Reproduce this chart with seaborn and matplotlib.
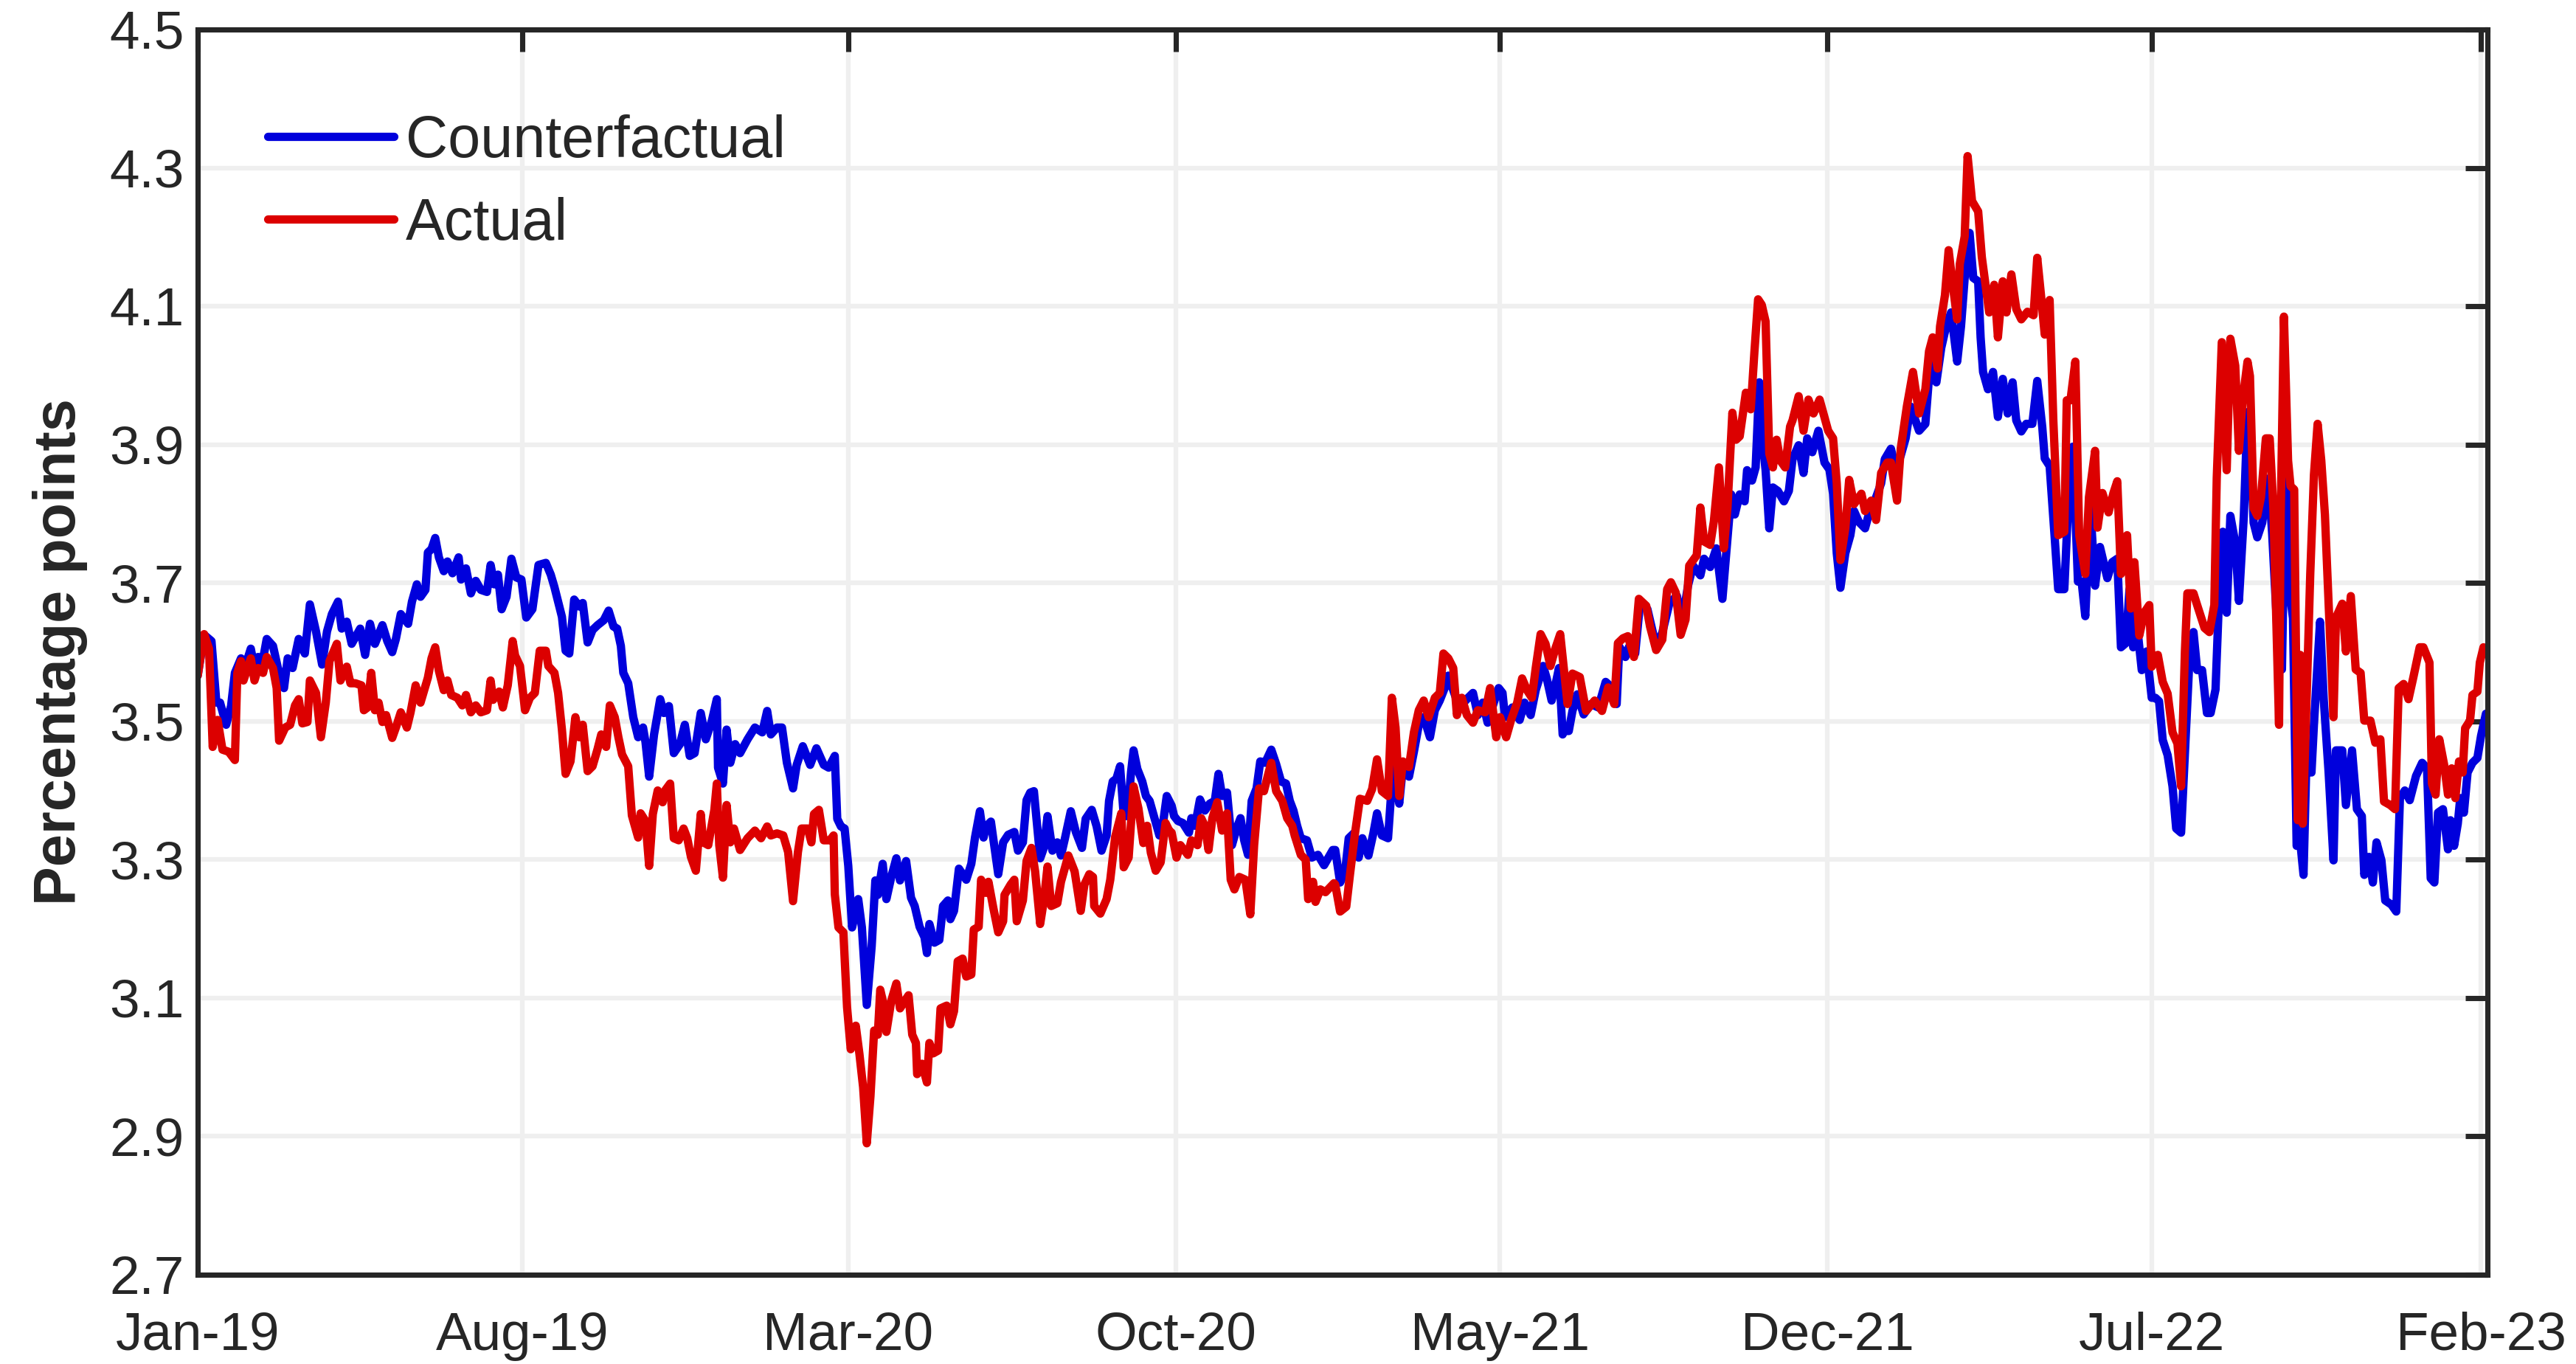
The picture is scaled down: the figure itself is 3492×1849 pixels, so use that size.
import pandas as pd
import matplotlib
matplotlib.use("Agg")
import matplotlib.pyplot as plt
import matplotlib.dates as mdates
import seaborn as sns

# ---------------- data (days since 2019-01-01, percentage points) ----------------
start_date = "2019-01-01"
x_end_day = 1496.2

cf_days = [
    0.0, 4.2, 9.0, 12.2, 14.6, 18.6, 21.8, 24.3, 28.3, 30.7, 34.7, 37.1, 39.5, 41.9, 45.1, 49.2,
    52.4, 56.4, 58.8, 62.0, 66.0, 70.0, 73.3, 77.3, 81.3, 84.5, 87.7, 91.7, 94.1, 97.4, 100.6,
    106.2, 109.4, 112.6, 115.8, 120.7, 123.9, 127.1, 129.5, 132.7, 137.5, 140.0, 143.2,
    145.6, 148.8, 150.4, 152.8, 155.2, 157.6, 160.8, 163.2, 166.5, 170.5, 172.1, 175.3, 178.5,
    181.7, 185.0, 189.0, 191.4, 193.8, 196.2, 198.6, 201.8, 205.0, 208.2, 211.5, 214.7, 218.7,
    222.7, 227.5, 230.7, 233.1, 238.0, 240.4, 242.8, 246.0, 249.2, 251.6, 254.8, 258.0, 261.3,
    265.3, 268.5, 271.7, 274.1, 276.5, 278.1, 281.3, 284.6, 287.8, 291.0, 292.6,
    295.0, 298.2, 302.2, 304.6, 307.9, 311.1, 315.1, 318.3, 321.5, 324.7, 328.7, 332.0, 336.0,
    339.2, 340.0, 343.2, 345.6, 348.0, 351.2, 354.4, 359.3, 364.1, 368.9, 372.1, 374.5, 378.5,
    381.8, 385.0, 389.0, 391.4, 395.4, 400.2, 404.3, 409.1, 412.3, 416.3, 417.9, 420.3, 422.7,
    425.1, 427.6, 431.6, 434.0, 437.2, 440.4, 442.8,
    444.4, 447.6, 450.0, 453.2, 456.5, 458.9, 462.9, 466.1, 468.5, 471.7, 474.9, 476.5, 478.1,
    481.4, 484.6, 487.0, 490.2, 491.8, 494.2, 497.4, 502.2, 505.5, 507.9, 511.1, 513.5, 515.1,
    518.3, 523.1, 526.3, 529.6, 533.6, 536.0, 539.2, 541.6, 544.0, 546.4, 550.5, 552.9, 555.3,
    558.5, 561.7, 564.1, 566.5, 570.5, 573.8, 577.8, 580.2, 584.2, 587.4, 590.6,
    593.9, 595.5, 597.9, 600.3, 602.7, 605.1, 607.5, 609.9, 611.5, 614.0, 617.2, 619.6, 622.0,
    625.2, 628.4, 630.8, 633.2, 636.4, 638.0, 640.5, 643.7, 647.7, 649.3, 651.7, 654.9, 658.1,
    661.3, 664.6, 667.0, 669.4, 672.6, 675.8, 679.0, 681.4, 683.8, 686.3, 688.7, 691.9, 694.3,
    697.5, 701.5, 704.7, 707.9, 711.1, 713.6, 716.0, 718.4, 720.8, 724.8, 728.0, 732.0, 736.0,
    741.7,
    743.3, 746.5, 749.7, 752.1, 755.4, 758.6, 761.0, 765.0, 768.2, 770.6, 773.8, 777.8, 779.5,
    781.9, 785.1, 787.5, 791.5, 794.7, 797.9, 801.1, 805.2, 808.4, 811.6, 814.8, 817.2, 820.4,
    824.4, 830.1, 833.3, 836.5, 839.7, 842.9, 846.9, 850.1, 852.6, 854.2, 859.0, 863.8, 867.0,
    871.0, 874.3, 876.7, 879.1, 881.5, 884.7, 887.1, 889.5, 891.9,
    892.7, 895.9, 898.3, 901.5, 905.6, 910.4, 915.2, 920.0, 924.0, 927.2, 928.9, 932.9, 935.3,
    939.3, 942.5, 947.3, 953.0, 957.0, 961.8, 966.6, 969.8, 973.8, 977.1, 981.9, 984.3, 988.3,
    992.3, 996.3, 998.7, 1002.0, 1004.4, 1007.6, 1010.8, 1012.4, 1015.6, 1018.0, 1020.4, 1022.0,
    1024.5, 1026.9, 1029.3, 1032.5, 1036.5, 1039.7,
    1042.1, 1046.1, 1049.3, 1051.7, 1055.0, 1059.0, 1063.0, 1066.2, 1068.6, 1071.0, 1073.4,
    1076.6, 1079.9, 1082.3, 1085.5, 1089.5, 1091.9, 1095.9, 1100.0, 1102.4, 1106.4, 1109.6,
    1112.8, 1116.0, 1119.2, 1122.4, 1124.8, 1128.9, 1132.1, 1136.1, 1139.3, 1142.5, 1145.7,
    1149.7, 1152.2, 1154.6, 1157.8, 1160.2, 1163.4, 1165.0, 1166.6, 1169.8, 1173.1, 1176.3,
    1179.5, 1182.7, 1185.9, 1188.3,
    1191.6, 1194.8, 1198.8, 1202.0, 1205.3, 1206.9, 1210.1, 1213.3, 1215.7, 1219.7, 1222.9,
    1225.3, 1228.6, 1231.0, 1233.4, 1236.6, 1239.8, 1243.0, 1247.8, 1251.0, 1254.3, 1256.7,
    1259.9, 1262.3, 1264.7, 1267.9, 1270.3, 1273.5, 1276.8, 1279.2, 1281.6, 1284.0, 1287.2,
    1290.4, 1292.8, 1296.0, 1299.3, 1301.7, 1304.1, 1306.5, 1309.7, 1312.9, 1315.3, 1318.5,
    1320.9, 1323.3, 1325.8, 1328.2, 1331.4, 1333.8, 1337.0, 1339.4,
    1341.0, 1343.4, 1345.8, 1349.0, 1353.1, 1355.5, 1358.7, 1361.9, 1364.3, 1366.7, 1369.1,
    1371.5, 1373.9, 1376.0, 1378.0, 1381.2, 1382.8, 1386.8, 1389.2, 1392.4, 1395.6, 1397.2,
    1401.3, 1403.7, 1407.7, 1410.9, 1414.1, 1415.7, 1418.9, 1421.3, 1423.7, 1426.9, 1429.4,
    1433.4, 1436.6, 1439.0, 1442.2, 1445.4, 1449.5, 1453.5, 1456.7, 1459.1, 1461.5, 1463.9,
    1467.1, 1470.4, 1472.0, 1474.4, 1476.8, 1478.4, 1480.8, 1483.2, 1486.4, 1489.6, 1492.0,
    1495.2,
]
cf_vals = [
    3.566, 3.625, 3.616, 3.527, 3.527, 3.495, 3.522, 3.570, 3.591, 3.577, 3.605, 3.577, 3.593,
    3.580, 3.619, 3.609, 3.577, 3.548, 3.591, 3.577, 3.619, 3.598, 3.669, 3.630, 3.582, 3.630,
    3.655, 3.673, 3.634, 3.644, 3.612, 3.634, 3.596, 3.641, 3.612, 3.639, 3.616, 3.600, 3.619,
    3.655, 3.641, 3.673, 3.698,
    3.680, 3.690, 3.744, 3.749, 3.765, 3.737, 3.717, 3.731, 3.714, 3.737, 3.705, 3.721, 3.685,
    3.703, 3.690, 3.687, 3.726, 3.698, 3.712, 3.662, 3.680, 3.735, 3.708, 3.705, 3.650, 3.662,
    3.726, 3.729, 3.712, 3.694, 3.651, 3.602, 3.598, 3.676, 3.666, 3.671, 3.614, 3.632, 3.639,
    3.646, 3.660, 3.637, 3.634, 3.609, 3.570, 3.555, 3.506, 3.477, 3.491, 3.470,
    3.420, 3.481, 3.532, 3.512, 3.522, 3.454, 3.467, 3.495, 3.450, 3.454, 3.512, 3.474, 3.501,
    3.532, 3.433, 3.410, 3.488, 3.440, 3.467, 3.454, 3.474, 3.491, 3.484, 3.515, 3.481, 3.491,
    3.491, 3.440, 3.403, 3.437, 3.464, 3.437, 3.461, 3.437, 3.433, 3.450, 3.359, 3.348, 3.345,
    3.291, 3.202, 3.243, 3.202, 3.090, 3.175, 3.270,
    3.249, 3.294, 3.243, 3.275, 3.302, 3.270, 3.298, 3.245, 3.233, 3.203, 3.188, 3.165, 3.207,
    3.180, 3.184, 3.233, 3.241, 3.214, 3.226, 3.287, 3.271, 3.294, 3.332, 3.370, 3.332, 3.348,
    3.355, 3.279, 3.325, 3.336, 3.340, 3.313, 3.325, 3.386, 3.397, 3.399, 3.302, 3.317, 3.363,
    3.313, 3.325, 3.306, 3.329, 3.370, 3.340, 3.317, 3.359, 3.372, 3.348, 3.313,
    3.335, 3.385, 3.413, 3.417, 3.435, 3.363, 3.363, 3.427, 3.458, 3.431, 3.413, 3.392, 3.385,
    3.360, 3.335, 3.353, 3.392, 3.378, 3.363, 3.356, 3.353, 3.339, 3.360, 3.349, 3.387, 3.371,
    3.381, 3.385, 3.424, 3.392, 3.397, 3.321, 3.346, 3.360, 3.328, 3.307, 3.385, 3.403, 3.442,
    3.440, 3.459, 3.438, 3.413, 3.410, 3.385, 3.371, 3.349, 3.331, 3.328, 3.303, 3.307, 3.292,
    3.314,
    3.314, 3.267, 3.282, 3.331, 3.338, 3.303, 3.331, 3.306, 3.338, 3.367, 3.335, 3.331, 3.385,
    3.438, 3.381, 3.434, 3.420, 3.456, 3.495, 3.506, 3.477, 3.516, 3.530, 3.548, 3.566, 3.545,
    3.520, 3.534, 3.541, 3.509, 3.527, 3.498, 3.527, 3.548, 3.541, 3.506, 3.520, 3.502, 3.527,
    3.509, 3.545, 3.562, 3.580, 3.562, 3.530, 3.552, 3.577, 3.481,
    3.486, 3.486, 3.515, 3.539, 3.510, 3.525, 3.520, 3.557, 3.549, 3.525, 3.608, 3.593, 3.608,
    3.598, 3.672, 3.662, 3.608, 3.628, 3.672, 3.681, 3.642, 3.696, 3.725, 3.711, 3.735, 3.723,
    3.750, 3.677, 3.740, 3.828, 3.799, 3.828, 3.818, 3.863, 3.848, 3.867, 3.990, 3.916,
    3.863, 3.779, 3.838, 3.833, 3.818, 3.833,
    3.879, 3.899, 3.859, 3.909, 3.889, 3.920, 3.874, 3.864, 3.829, 3.743, 3.693,
    3.743, 3.769, 3.804, 3.788, 3.779, 3.799, 3.819, 3.844, 3.879, 3.894, 3.864,
    3.884, 3.909, 3.955, 3.935, 3.920, 3.930, 4.020, 3.990, 4.040, 4.071, 4.091,
    4.020, 4.071, 4.141, 4.206, 4.141, 4.136, 4.055, 4.005, 3.980, 4.005, 3.940,
    3.995, 3.945, 3.990, 3.935,
    3.919, 3.930, 3.930, 3.992, 3.925, 3.880, 3.869, 3.769, 3.691, 3.691, 3.847,
    3.897, 3.702, 3.702, 3.652, 3.813, 3.696, 3.752, 3.707, 3.730, 3.735, 3.607,
    3.613, 3.691, 3.607, 3.624, 3.574, 3.601, 3.534, 3.534, 3.529, 3.473, 3.451,
    3.406, 3.345, 3.339, 3.490, 3.601, 3.629, 3.574, 3.574, 3.512, 3.512, 3.546,
    3.685, 3.774, 3.657, 3.797, 3.758, 3.674, 3.797, 3.947,
    3.925, 3.787, 3.766, 3.787, 3.851, 3.771, 3.638, 3.575, 3.872, 3.692, 3.649,
    3.320, 3.325, 3.278, 3.453, 3.426, 3.495, 3.644, 3.532, 3.426, 3.299, 3.458,
    3.458, 3.379, 3.458, 3.373, 3.363, 3.278, 3.304, 3.267, 3.325, 3.299, 3.241,
    3.235, 3.225, 3.389, 3.400, 3.386, 3.421, 3.440, 3.432, 3.273, 3.267, 3.368,
    3.373, 3.315, 3.357, 3.320, 3.352, 3.389, 3.368, 3.426, 3.440, 3.447, 3.479,
    3.511,
]

act_days = [
    0.0, 4.2, 7.4, 9.8, 13.0, 16.2, 20.2, 24.3, 25.9, 28.3, 29.9, 34.7, 37.1, 39.5, 42.7, 45.1,
    49.2, 51.6, 53.2, 57.2, 60.4, 63.6, 66.0, 68.4, 71.7, 73.3, 77.3, 80.5, 83.7, 86.1, 90.9,
    93.3, 97.4, 99.8, 103.0, 107.0, 108.6, 111.0, 113.4, 115.8, 118.2, 120.7, 123.1, 127.1,
    129.5, 132.7, 136.7, 139.1, 142.4,
    145.6, 148.0, 150.4, 152.8, 155.2, 157.6, 160.8, 163.2, 165.7, 169.7, 172.9, 175.3, 178.5,
    181.7, 185.0, 189.0, 191.4, 193.0, 197.0, 199.4, 202.6, 205.8, 207.4, 210.6, 213.9, 217.1,
    220.3, 223.5, 227.5, 229.1, 233.1, 235.5, 238.0, 240.4, 243.6, 246.8, 249.2, 251.6, 254.8,
    258.0, 261.3, 263.7, 266.9, 269.3, 272.5, 274.9, 277.3, 281.3, 283.7, 287.8, 289.4, 292.6,
    295.0, 297.4, 300.6, 303.8, 305.4, 308.7, 311.1, 314.3, 317.5, 319.9, 322.3, 325.5, 328.7,
    330.3, 333.6, 337.6, 339.2, 340.8, 343.2, 345.6, 348.0, 350.4, 354.4, 359.3, 364.1, 368.1,
    372.1, 374.5, 378.5, 382.6, 385.8, 389.0, 392.2, 394.6, 398.6, 401.0, 402.7, 405.9, 409.1,
    413.1, 415.5, 416.3, 418.7, 421.9, 424.3, 426.7, 430.0, 432.4, 434.8, 437.2, 439.6, 442.0,
    444.4, 446.0, 448.4, 450.0, 453.2, 456.5, 458.9, 462.1, 464.5, 466.9, 469.3, 470.1, 473.3,
    476.5, 478.1, 480.6, 483.8, 485.4, 489.4, 491.8, 494.2, 496.6, 499.8, 502.2, 505.5, 507.1,
    510.3, 511.9, 515.1, 516.7, 519.9, 523.1, 526.3, 527.2, 531.2, 533.6, 535.2, 539.2, 541.6,
    544.8, 547.2, 550.5, 552.9, 555.3, 557.7, 561.7, 564.1, 568.9, 573.0, 577.0, 579.4, 582.6,
    585.0, 585.8, 589.8,
    593.9, 596.3, 599.5, 603.5, 605.1, 608.3, 611.5, 614.7, 617.9, 620.4, 622.8, 626.0, 629.2,
    632.4, 634.8, 636.4, 639.6, 642.1, 647.0, 649.3, 653.3, 655.7, 658.1, 660.5, 663.0, 666.2,
    669.4, 672.6, 675.0, 677.4, 680.6, 684.6, 687.8, 690.3, 693.5, 696.7, 699.9, 701.5, 704.7,
    708.7, 711.9, 715.2, 716.8, 720.8, 724.0, 725.6, 728.8, 730.4, 733.6, 736.9, 742.5,
    743.3, 746.5, 750.5, 752.9, 756.2, 759.4, 764.2, 767.4, 770.6, 773.8, 777.8, 780.3, 782.7,
    785.1, 787.5, 791.5, 794.7, 797.9, 801.1, 804.3, 808.4, 811.6, 814.0, 817.2, 820.4, 822.8,
    826.0, 829.3, 833.3, 836.5, 841.3, 844.5, 848.5, 851.0, 855.0, 858.2, 862.2, 865.4, 868.6,
    871.8, 874.3, 877.5, 880.7, 883.9, 887.1, 890.3,
    895.1, 898.3, 903.1, 907.2, 912.8, 917.6, 921.6, 925.6, 928.0, 931.3, 934.5, 938.5, 941.7,
    946.5, 949.0, 953.0, 957.0, 960.2, 962.6, 965.8, 969.0, 972.2, 974.6, 979.5, 981.9, 984.3,
    988.3, 990.7, 994.0, 997.2, 999.6, 1002.8, 1005.2, 1007.6, 1011.6, 1014.8, 1017.2, 1019.6,
    1022.0, 1024.5, 1026.9, 1029.3, 1031.7, 1034.1, 1037.3, 1040.5,
    1042.1, 1046.1, 1049.3, 1052.5, 1055.8, 1059.8, 1065.4, 1068.6, 1071.0, 1073.4, 1076.6,
    1079.1, 1082.3, 1087.1, 1089.5, 1093.5, 1096.7, 1100.0, 1104.0, 1106.4, 1110.4, 1112.8,
    1116.8, 1120.8, 1124.8, 1128.9, 1131.3, 1133.7, 1136.9, 1138.5, 1141.7, 1144.1, 1146.5,
    1149.7, 1151.4, 1154.6, 1156.5, 1159.4, 1163.4, 1165.8, 1168.2, 1170.6, 1173.9, 1176.3,
    1179.5, 1181.9, 1185.1, 1188.3,
    1191.6, 1195.6, 1199.6, 1202.0, 1204.5, 1206.9, 1210.1, 1212.5, 1215.7, 1219.7, 1221.3,
    1223.7, 1226.9, 1229.4, 1233.4, 1235.8, 1239.8, 1241.4, 1244.6, 1248.6, 1251.8, 1254.3,
    1256.7, 1260.7, 1263.1, 1265.5, 1268.7, 1271.9, 1275.2, 1276.8, 1280.8, 1284.0, 1287.2,
    1290.4, 1293.6, 1296.0, 1298.5, 1300.1, 1304.1, 1306.5, 1311.3, 1314.5, 1317.7, 1319.3,
    1322.6, 1325.8, 1328.2, 1331.4, 1333.8, 1336.2, 1339.4,
    1341.0, 1343.4, 1345.8, 1348.2, 1351.4, 1353.9, 1356.3, 1360.0, 1361.1, 1363.2, 1365.9,
    1367.5, 1369.9, 1372.3, 1373.9, 1375.5, 1378.0, 1380.4, 1382.8, 1385.2, 1387.6, 1390.0,
    1392.4, 1395.6, 1397.2, 1401.3, 1403.7, 1406.9, 1410.1, 1413.3, 1415.7, 1419.7, 1422.9,
    1426.2, 1428.6, 1432.6, 1435.8, 1438.2, 1441.4, 1444.6, 1447.8, 1451.9, 1454.3, 1458.3,
    1459.9, 1462.3, 1464.7, 1467.9, 1470.4, 1472.8, 1475.2, 1477.6, 1480.0, 1481.6, 1484.8,
    1486.4, 1489.6, 1491.2, 1493.6, 1496.0,
]
act_vals = [
    3.566, 3.626, 3.605, 3.463, 3.502, 3.459, 3.456, 3.444, 3.570, 3.587, 3.559, 3.591, 3.559,
    3.577, 3.570, 3.593, 3.577, 3.548, 3.472, 3.491, 3.495, 3.523, 3.532, 3.497, 3.499, 3.559,
    3.541, 3.477, 3.527, 3.587, 3.612, 3.559, 3.579, 3.555, 3.555, 3.552, 3.516, 3.520, 3.570,
    3.516, 3.527, 3.499, 3.509, 3.476, 3.491, 3.513, 3.491, 3.513, 3.552,
    3.527, 3.545, 3.563, 3.591, 3.607, 3.573, 3.545, 3.559, 3.538, 3.534, 3.523, 3.538, 3.513,
    3.523, 3.513, 3.516, 3.559, 3.531, 3.543, 3.520, 3.552, 3.616, 3.595, 3.580, 3.516, 3.534,
    3.541, 3.602, 3.602, 3.580, 3.570, 3.541, 3.488, 3.424, 3.442, 3.506, 3.477, 3.495, 3.428,
    3.435, 3.460, 3.481, 3.463, 3.523, 3.506, 3.477, 3.452, 3.435, 3.364, 3.332, 3.367, 3.356,
    3.291, 3.366, 3.400, 3.383, 3.400, 3.410, 3.331, 3.328, 3.345, 3.331, 3.304, 3.284, 3.366,
    3.325, 3.321, 3.372, 3.410, 3.321, 3.274, 3.379, 3.325, 3.345, 3.314, 3.331, 3.342, 3.331,
    3.348, 3.335, 3.338, 3.335, 3.311, 3.240, 3.311, 3.345, 3.345, 3.325, 3.366, 3.372, 3.328,
    3.328, 3.335, 3.250, 3.202, 3.195, 3.087, 3.026, 3.060, 3.019, 2.971, 2.890, 2.958, 3.053,
    3.047, 3.112, 3.089, 3.051, 3.096, 3.121, 3.085, 3.096, 3.104, 3.047, 3.035, 2.990, 3.005,
    2.978, 3.035, 3.020, 3.024, 3.085, 3.089, 3.062, 3.081, 3.153, 3.157, 3.131, 3.134, 3.199,
    3.203, 3.271, 3.252, 3.268, 3.230, 3.195, 3.211, 3.249, 3.264, 3.271, 3.211, 3.241, 3.298,
    3.317, 3.283, 3.207, 3.241, 3.290, 3.233, 3.237, 3.268, 3.306, 3.283, 3.226, 3.264, 3.279,
    3.275, 3.233, 3.222,
    3.243, 3.271, 3.333, 3.367, 3.289, 3.303, 3.406, 3.374, 3.324, 3.349, 3.310, 3.284, 3.296,
    3.353, 3.342, 3.339, 3.303, 3.321, 3.307, 3.328, 3.321, 3.360, 3.349, 3.314, 3.360, 3.383,
    3.342, 3.367, 3.271, 3.257, 3.275, 3.271, 3.221, 3.321, 3.403, 3.399, 3.427, 3.440, 3.399,
    3.385, 3.360, 3.349, 3.335, 3.307, 3.300, 3.243, 3.268, 3.239, 3.257, 3.253, 3.266,
    3.264, 3.225, 3.232, 3.278, 3.338, 3.388, 3.385, 3.402, 3.445, 3.399, 3.392, 3.534, 3.491,
    3.392, 3.442, 3.434, 3.484, 3.516, 3.530, 3.506, 3.534, 3.541, 3.598, 3.591, 3.577, 3.509,
    3.534, 3.509, 3.498, 3.516, 3.513, 3.548, 3.477, 3.506, 3.477, 3.502, 3.527, 3.562, 3.545,
    3.534, 3.577, 3.626, 3.612, 3.580, 3.605, 3.626,
    3.525, 3.569, 3.564, 3.515, 3.530, 3.515, 3.549, 3.525, 3.613, 3.620, 3.623, 3.593, 3.677,
    3.667, 3.637, 3.603, 3.618, 3.691, 3.701, 3.686, 3.625, 3.647, 3.725, 3.740, 3.809, 3.760,
    3.755, 3.789, 3.867, 3.750, 3.809, 3.946, 3.907, 3.912, 3.975, 3.951, 4.034, 4.110,
    4.102, 4.078, 3.887, 3.867, 3.907, 3.877, 3.867, 3.926,
    3.935, 3.970, 3.920, 3.965, 3.945, 3.965, 3.920, 3.909, 3.844, 3.733, 3.779,
    3.849, 3.814, 3.829, 3.804, 3.819, 3.791, 3.859, 3.874, 3.874, 3.819, 3.894,
    3.955, 4.005, 3.945, 3.980, 4.035, 4.055, 4.010, 4.071, 4.116, 4.181, 4.136,
    4.081, 4.161, 4.201, 4.317, 4.252, 4.237, 4.171, 4.131, 4.091, 4.131, 4.055,
    4.136, 4.091, 4.146, 4.096,
    4.081, 4.092, 4.087, 4.170, 4.115, 4.059, 4.109, 3.936, 3.769, 3.774, 3.964,
    3.964, 4.020, 3.769, 3.713, 3.824, 3.891, 3.780, 3.830, 3.802, 3.830, 3.847,
    3.713, 3.769, 3.663, 3.730, 3.624, 3.657, 3.668, 3.579, 3.596, 3.557, 3.540,
    3.484, 3.468, 3.406, 3.601, 3.685, 3.685, 3.668, 3.635, 3.629, 3.668, 3.852,
    4.048, 3.863, 4.053, 4.014, 3.891, 3.964, 4.020,
    3.999, 3.808, 3.797, 3.824, 3.909, 3.909, 3.808, 3.495, 3.798, 4.085, 3.877,
    3.840, 3.835, 3.357, 3.596, 3.352, 3.532, 3.713, 3.856, 3.930, 3.877, 3.798,
    3.670, 3.506, 3.650, 3.670, 3.601, 3.681, 3.575, 3.570, 3.501, 3.501, 3.469,
    3.474, 3.384, 3.379, 3.373, 3.548, 3.554, 3.532, 3.564, 3.607, 3.607, 3.585,
    3.410, 3.394, 3.474, 3.437, 3.394, 3.432, 3.389, 3.442, 3.426, 3.490, 3.501,
    3.538, 3.543, 3.585, 3.607, 3.601,
]

series_names = ["Counterfactual", "Actual"]
series_colors = ["#0000dc", "#dc0000"]

y_ticks = [2.7, 2.9, 3.1, 3.3, 3.5, 3.7, 3.9, 4.1, 4.3, 4.5]
y_tick_labels = ["2.7", "2.9", "3.1", "3.3", "3.5", "3.7", "3.9", "4.1", "4.3", "4.5"]
x_tick_dates = ["2019-01-01", "2019-08-01", "2020-03-01", "2020-10-01",
                "2021-05-01", "2021-12-01", "2022-07-01", "2023-02-01"]
x_tick_labels = ["Jan-19", "Aug-19", "Mar-20", "Oct-20", "May-21", "Dec-21", "Jul-22", "Feb-23"]
y_label = "Percentage points"

# ---------------- plotting ----------------
sns.set_style("white")
plt.rcParams["font.family"] = ["Liberation Sans", "DejaVu Sans"]

t0 = pd.Timestamp(start_date)
df_cf = pd.DataFrame({"date": t0 + pd.to_timedelta(cf_days, unit="D"), "value": cf_vals})
df_act = pd.DataFrame({"date": t0 + pd.to_timedelta(act_days, unit="D"), "value": act_vals})

W, H = 3492, 1849
fig = plt.figure(figsize=(W / 300, H / 300), dpi=300)
ax = fig.add_axes([268 / W, 1 - 1728 / H, (3372 - 268) / W, (1728 - 40) / H])

for df, name, col in zip([df_cf, df_act], series_names, series_colors):
    sns.lineplot(data=df, x="date", y="value", ax=ax, color=col, linewidth=2.7,
                 label=name, estimator=None, solid_joinstyle="round", solid_capstyle="round")

ax.set_xlim(mdates.date2num(t0), mdates.date2num(t0 + pd.Timedelta(days=x_end_day)))
ax.set_ylim(y_ticks[0], y_ticks[-1])
ax.set_yticks(y_ticks)
ax.set_yticklabels(y_tick_labels)
ax.set_xticks(mdates.date2num(pd.to_datetime(x_tick_dates)))
ax.set_xticklabels(x_tick_labels)

ax.grid(True, color="#efefef", linewidth=1.5)
ax.set_axisbelow(True)
for s in ax.spines.values():
    s.set_visible(True)
    s.set_linewidth(1.7)
    s.set_color("#262626")

ax.tick_params(axis="both", which="major", direction="in", length=7.2, width=1.7,
               color="#262626", labelcolor="#262626", labelsize=17.5,
               top=True, right=True)
ax.tick_params(axis="y", pad=4.5)
ax.tick_params(axis="x", pad=12)

ax.set_xlabel("")
ax.set_ylabel(y_label, fontsize=19, fontweight="bold", color="#262626")
ax.yaxis.set_label_coords(-0.048, 0.5)

ax.legend(loc="upper left", bbox_to_anchor=(0.0306, 0.932), frameon=False,
          fontsize=19, handlelength=2.16, handletextpad=0.2, labelspacing=0.47,
          borderpad=0, borderaxespad=0)

fig.savefig("out.png", dpi=300)
